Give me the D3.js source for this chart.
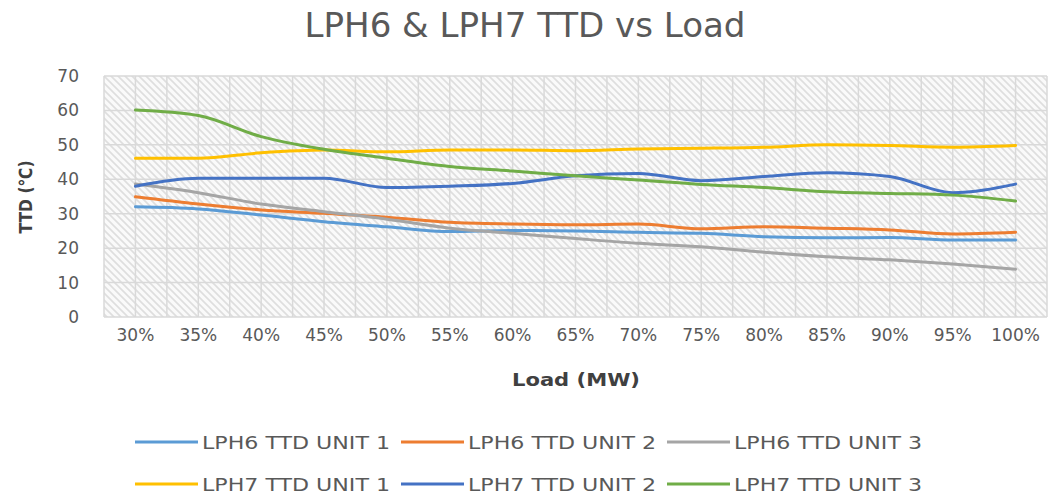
<!DOCTYPE html>
<html><head><meta charset="utf-8">
<script src="https://cdn.jsdelivr.net/npm/d3@7"></script>
<style>body{margin:0;background:#fff}svg{display:block}</style>
</head><body>
<svg id="c" width="1051" height="495"></svg>
<script>
const categories = ["30%","35%","40%","45%","50%","55%","60%","65%","70%","75%","80%","85%","90%","95%","100%"];
const yTicks = [0,10,20,30,40,50,60,70];
const seriesNames = ["LPH6 TTD UNIT 1","LPH6 TTD UNIT 2","LPH6 TTD UNIT 3","LPH7 TTD UNIT 1","LPH7 TTD UNIT 2","LPH7 TTD UNIT 3"];
const lph6Unit1 = [32.0,31.4,29.6,27.7,26.2,24.8,25.1,25.0,24.6,24.3,23.3,23.0,23.1,22.4,22.4];
const lph6Unit2 = [34.9,32.8,31.1,30.1,29.0,27.5,27.0,26.8,27.0,25.6,26.2,25.8,25.3,24.1,24.6];
const lph6Unit3 = [38.6,36.1,32.8,30.6,28.4,25.8,24.3,22.8,21.4,20.4,18.8,17.5,16.6,15.4,13.9];
const lph7Unit1 = [46.1,46.1,47.7,48.5,48.0,48.5,48.5,48.3,48.8,49.0,49.3,50.0,49.8,49.3,49.8];
const lph7Unit2 = [38.0,40.3,40.3,40.3,37.6,38.0,38.8,41.0,41.7,39.6,40.8,41.9,40.8,36.1,38.6];
const lph7Unit3 = [60.1,58.5,52.4,48.7,46.1,43.7,42.4,41.0,39.8,38.5,37.6,36.4,35.9,35.4,33.7];
const seriesValues = [lph6Unit1,lph6Unit2,lph6Unit3,lph7Unit1,lph7Unit2,lph7Unit3];
const colors = ["#5B9BD5","#ED7D31","#A5A5A5","#FFC000","#4472C4","#70AD47"];

const svg = d3.select("#c");
const L=104,R=1047,T=76,B=317;
const x = d3.scaleBand().domain(categories).range([L,R]).padding(0);
const y = d3.scaleLinear().domain([0,70]).range([B,T]);
const cx = c => x(c)+x.bandwidth()/2;

// hatch pattern
const defs = svg.append("defs");
const pat = defs.append("pattern").attr("id","hatch").attr("patternUnits","userSpaceOnUse")
  .attr("width",7).attr("height",7);
pat.append("rect").attr("width",7).attr("height",7).attr("fill","#fafafa");
pat.append("path").attr("d","M-1,-1 L8,8 M-1,6 L1,8 M6,-1 L8,1").attr("stroke","#dedede").attr("stroke-width",1.6);
svg.append("rect").attr("x",L).attr("y",T).attr("width",R-L).attr("height",B-T).attr("fill","url(#hatch)");

// grid
const grid = svg.append("g").attr("stroke","#d9d9d9").attr("stroke-width",1.5);
yTicks.forEach(t=>grid.append("line").attr("x1",L).attr("x2",R).attr("y1",y(t)).attr("y2",y(t)));
const vx = [];
categories.forEach(c=>{vx.push(x(c)); vx.push(cx(c));});
vx.push(R);
vx.forEach(v=>grid.append("line").attr("x1",v).attr("x2",v).attr("y1",T).attr("y2",B));

// axes
const yAxis = d3.axisLeft(y).tickValues(yTicks).tickSize(0).tickPadding(0);
const yg = svg.append("g").attr("transform",`translate(79,0)`).call(yAxis);
yg.select(".domain").remove();
yg.selectAll("text").attr("font-family","'DejaVu Sans', sans-serif").attr("font-size",17).attr("fill","#595959");

const xAxis = d3.axisBottom(x).tickSize(0).tickPadding(0);
const xg = svg.append("g").attr("transform",`translate(0,329)`).call(xAxis);
xg.select(".domain").remove();
xg.selectAll("text").attr("font-family","'DejaVu Sans', sans-serif").attr("font-size",17).attr("fill","#595959");

// lines
const line = d3.line().x((d,i)=>cx(categories[i])).y(d=>y(d)).curve(d3.curveMonotoneX);
seriesValues.forEach((vals,k)=>{
  svg.append("path").datum(vals).attr("d",line).attr("fill","none")
    .attr("stroke",colors[k]).attr("stroke-width",3).attr("stroke-linecap","round");
});

// titles
svg.append("text").attr("x",525).attr("y",37).attr("text-anchor","middle")
  .attr("font-family","'Liberation Sans Narrow','DejaVu Sans Condensed',sans-serif").attr("font-size",34)
  .attr("fill","#595959").attr("textLength",441).attr("lengthAdjust","spacingAndGlyphs")
  .text("LPH6 & LPH7 TTD vs Load");
svg.append("text").attr("transform","translate(32,197) rotate(-90)").attr("text-anchor","middle")
  .attr("font-family","'DejaVu Sans',sans-serif").attr("font-weight","bold").attr("font-size",18)
  .attr("fill","#404040").attr("textLength",73).attr("lengthAdjust","spacingAndGlyphs")
  .text("TTD (℃)");
svg.append("text").attr("x",576).attr("y",386).attr("text-anchor","middle")
  .attr("font-family","'DejaVu Sans',sans-serif").attr("font-weight","bold").attr("font-size",17)
  .attr("fill","#404040").attr("textLength",128).attr("lengthAdjust","spacingAndGlyphs")
  .text("Load (MW)");

// legend
const lg = svg.append("g");
seriesNames.forEach((n,k)=>{
  const col=k%3,row=Math.floor(k/3);
  const x0 = 135 + col*266, yy = 442 + row*42;
  lg.append("line").attr("x1",x0).attr("x2",x0+63).attr("y1",yy).attr("y2",yy)
    .attr("stroke",colors[k]).attr("stroke-width",3);
  lg.append("text").attr("x",x0+67).attr("y",yy+7)
    .attr("font-family","'DejaVu Sans',sans-serif").attr("font-size",17).attr("fill","#595959")
    .attr("textLength",188).attr("lengthAdjust","spacingAndGlyphs").text(n);
});
</script>
</body></html>
